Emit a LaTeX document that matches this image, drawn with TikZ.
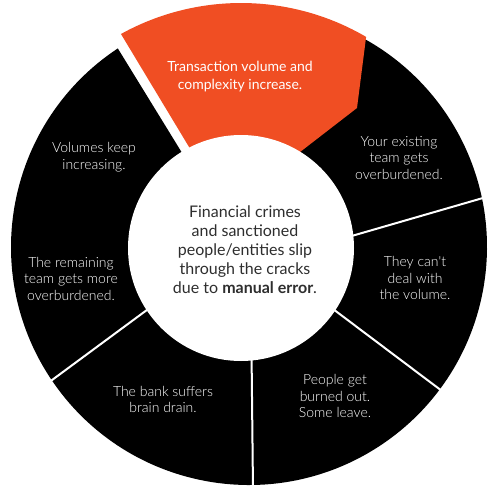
\documentclass[tikz,border=0pt]{standalone}
\usepackage{fontspec}
\setmainfont{Lato}
\IfFontExistsTF{Lato Light}{\newfontfamily\lightfont{Lato Light}}{\newfontfamily\lightfont{Lato}}
\definecolor{segorange}{HTML}{F04E23}
\definecolor{midtext}{HTML}{2E2E2E}
\begin{document}
\begin{tikzpicture}[x=1pt,y=-1pt,
  segtext/.style={text=white, align=center, inner sep=0pt, font=\lightfont\fontsize{14}{16.5}\selectfont},
  toptext/.style={text=white, align=center, inner sep=0pt, font=\fontsize{14}{18}\selectfont},
  midstyle/.style={text=midtext, align=center, inner sep=0pt, font=\fontsize{16}{19}\selectfont},
  sepline/.style={draw=white, line width=2pt}]
\useasboundingbox (0,0) rectangle (489,491);
\fill[white] (0,0) rectangle (489,491);
\coordinate (oc) at (249,247);
\coordinate (ic) at (241,248);
\coordinate (tc) at (241,251);
% black ring
\fill[black] ([shift={(-123.45:238)}]oc) arc[start angle=-123.45, end angle=-420.9, radius=238]
  -- (350,100) -- (290,150) -- (250,200) -- (211,200) -- cycle;
% orange exploded segment
\fill[segorange] ([shift={(-118.95:248)}]tc) arc[start angle=-118.95, end angle=-59.7, radius=248]
  -- (357,108) -- (280,167.5) -- (250,220) -- (221,200) -- cycle;
% separators
\coordinate (s1a) at (251.5,350);
\coordinate (s1b) at (253,490);
\coordinate (s2a) at (329,306);
\coordinate (s2b) at (442.8,391.6);
\coordinate (s3a) at (345.4,237.8);
\coordinate (s3b) at (488.8,196.3);
\coordinate (s4a) at (155,304);
\coordinate (s4b) at (47.2,383.6);
\draw[sepline] (s1a) -- (s1b);
\draw[sepline] (s2a) -- (s2b);
\draw[sepline] (s3a) -- (s3b);
\draw[sepline] (s4a) -- (s4b);
% centre disc
\fill[white] (ic) circle[radius=113];
% texts
\node[toptext] (t0) at (240,77) {Transaction volume and\\complexity increase.};
\node[segtext] (t1) at (399,158) {Your existing\\team gets\\overburdened.};
\node[segtext] (t2) at (415,278) {They can't\\deal with\\the volume.};
\node[segtext] (t3) at (335,396) {People get\\burned out.\\Some leave.};
\node[segtext] (t4) at (163,399.5) {The bank suffers\\brain drain.};
\node[segtext] (t5) at (71,278.5) {The remaining\\team gets more\\overburdened.};
\node[segtext] (t6) at (94,157) {Volumes keep\\increasing.};
\node[midstyle] (mid) at (245,250) {Financial crimes\\and sanctioned\\people/entities slip\\through the cracks\\due to \textbf{manual error}.};
\end{tikzpicture}
\end{document}
